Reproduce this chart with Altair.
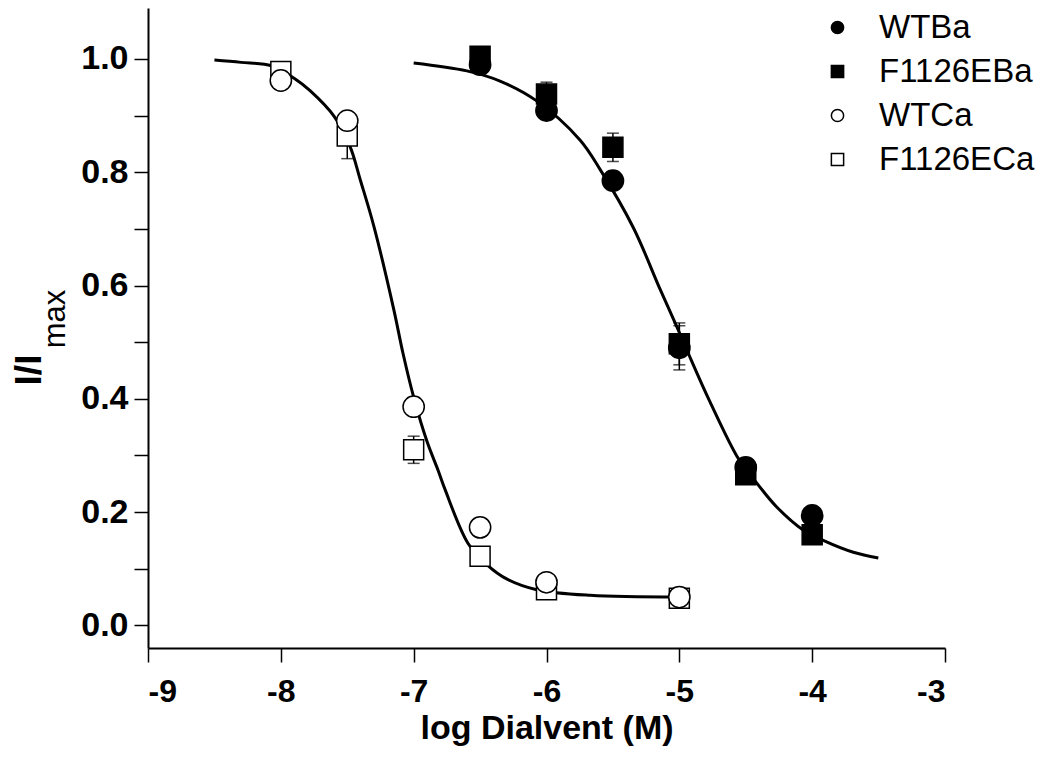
import altair as alt
import pandas as pd

# ---- data ----
ca_x = [-8, -7.5, -7, -6.5, -6, -5]
wtca_y = [0.962, 0.891, 0.386, 0.173, 0.076, 0.050]
wtca_err = [0, 0, 0, 0, 0, 0]
fca_y = [0.978, 0.864, 0.310, 0.122, 0.063, 0.048]
fca_err = [0, 0.040, 0.024, 0, 0, 0]

ba_x = [-6.5, -6, -5.5, -5, -4.5, -4]
wtba_y = [0.990, 0.909, 0.785, 0.490, 0.279, 0.194]
wtba_err = [0, 0, 0, 0.039, 0, 0]
fba_y = [1.005, 0.938, 0.844, 0.497, 0.266, 0.160]
fba_err = [0, 0.021, 0.025, 0.037, 0, 0]

fit_ca_x = [-8.5, -8.3, -8.07, -7.9, -7.78, -7.6, -7.48, -7.4, -7.3, -7.15, -7.08, -7.0,
            -6.9, -6.815, -6.764, -6.589, -6.443, -6.30, -6.074, -5.67, -5.0]
fit_ca_y = [0.998, 0.994, 0.988, 0.966, 0.944, 0.899, 0.846, 0.785, 0.705, 0.558, 0.480, 0.403,
            0.325, 0.273, 0.240, 0.144, 0.106, 0.082, 0.063, 0.053, 0.050]

fit_ba_x = [-7.0, -6.6, -6.35, -6.074, -5.748, -5.597, -5.346, -5.146, -5.02, -4.932,
            -4.77, -4.555, -4.443, -4.267, -4.066, -3.917, -3.69, -3.502]
fit_ba_y = [0.993, 0.979, 0.961, 0.926, 0.857, 0.805, 0.702, 0.594, 0.528, 0.480,
            0.395, 0.294, 0.259, 0.209, 0.168, 0.150, 0.129, 0.119]

series_order = ["WTBa", "F1126EBa", "WTCa", "F1126ECa"]

# points: squares first so circles draw on top
rows = []
for name, xs, ys, es in [("F1126ECa", ca_x, fca_y, fca_err),
                         ("F1126EBa", ba_x, fba_y, fba_err),
                         ("WTCa", ca_x, wtca_y, wtca_err),
                         ("WTBa", ba_x, wtba_y, wtba_err)]:
    for x, y, e in zip(xs, ys, es):
        rows.append({"series": name, "x": x, "y": y, "lo": y - e, "hi": y + e, "err": e})
pts = pd.DataFrame(rows)
errs = pts[pts["err"] > 0]

fits = pd.DataFrame(
    [{"curve": "Ca", "x": x, "y": y} for x, y in zip(fit_ca_x, fit_ca_y)]
    + [{"curve": "Ba", "x": x, "y": y} for x, y in zip(fit_ba_x, fit_ba_y)]
)

FONT = "Liberation Sans"

xscale = alt.Scale(domain=[-9, -3], nice=False, zero=False)
yscale = alt.Scale(domain=[-0.04, 1.09], nice=False, zero=False)

xaxis = alt.Axis(
    values=[-9, -8, -7, -6, -5, -4, -3],
    labelExpr="'' + datum.value",
    title="log Dialvent (M)",
    grid=False,
    domainColor="black", domainWidth=2,
    tickColor="black", tickWidth=1.5, tickSize=14,
    labelFont=FONT, labelFontWeight="bold", labelFontSize=32, labelColor="black",
    labelPadding=14,
    titleFont=FONT, titleFontWeight="bold", titleFontSize=34, titleColor="black",
    titlePadding=4,
)
yaxis = alt.Axis(
    values=[0, 0.1, 0.2, 0.3, 0.4, 0.5, 0.6, 0.7, 0.8, 0.9, 1.0],
    labelExpr="round(datum.value*10) % 2 == 0 ? format(datum.value, '.1f') : ''",
    title=None,
    grid=False,
    domainColor="black", domainWidth=2,
    tickColor="black", tickWidth=1.5, tickSize=14,
    labelFont=FONT, labelFontWeight="bold", labelFontSize=34, labelColor="black",
    labelPadding=6,
)

lines = alt.Chart(fits).mark_line(color="black", strokeWidth=3, interpolate="catmull-rom").encode(
    x=alt.X("x:Q", scale=xscale, axis=xaxis),
    y=alt.Y("y:Q", scale=yscale, axis=yaxis),
    detail="curve:N",
)

err_rules = alt.Chart(errs).mark_rule(color="black", strokeWidth=1.5).encode(
    x="x:Q", y="lo:Q", y2="hi:Q"
)
cap_hi = alt.Chart(errs).mark_tick(color="black", orient="horizontal", size=12, thickness=1.5).encode(
    x="x:Q", y="hi:Q"
)
cap_lo = alt.Chart(errs).mark_tick(color="black", orient="horizontal", size=12, thickness=1.5).encode(
    x="x:Q", y="lo:Q"
)

leg = alt.Legend(title=None)
points = alt.Chart(pts).mark_point(filled=True, strokeWidth=1.5, opacity=1).encode(
    x="x:Q",
    y="y:Q",
    shape=alt.Shape("series:N", scale=alt.Scale(domain=series_order,
                                                range=["circle", "square", "circle", "square"]),
                    legend=leg),
    fill=alt.Fill("series:N", scale=alt.Scale(domain=series_order,
                                              range=["black", "black", "white", "white"]),
                  legend=leg),
    stroke=alt.Stroke("series:N", scale=alt.Scale(domain=series_order,
                                                  range=["black", "black", "black", "black"]),
                      legend=leg),
    size=alt.condition("datum.series == 'WTBa' || datum.series == 'WTCa'",
                       alt.value(452), alt.value(400)),
)

ytitle = alt.Chart(pd.DataFrame({"t": ["I/I"]})).mark_text(
    text="I/I", font=FONT, fontWeight="bold", fontSize=37, angle=270,
    align="center", baseline="middle", color="black"
).encode(x=alt.value(-118), y=alt.value(362))

ysub = alt.Chart(pd.DataFrame({"t": ["max"]})).mark_text(
    text="max", font=FONT, fontSize=31, angle=270,
    align="center", baseline="middle", color="black"
).encode(x=alt.value(-92), y=alt.value(311))

chart = alt.layer(lines, err_rules, cap_hi, cap_lo, points, ytitle, ysub).properties(
    width=797, height=640,
    autosize=alt.AutoSizeParams(type="none"),
    padding={"left": 140, "top": 0, "right": 96, "bottom": 98},
    background="white",
).configure_view(stroke=None).configure_legend(
    orient="none", legendX=673, legendY=3,
    labelFont=FONT, labelFontSize=33, labelColor="black", labelLimit=0,
    symbolSize=150, symbolStrokeColor="black", symbolStrokeWidth=1.5,
    labelOffset=25, rowPadding=10, padding=0,
)

chart.save("out.html", embed_options={"renderer": "svg", "actions": False})
